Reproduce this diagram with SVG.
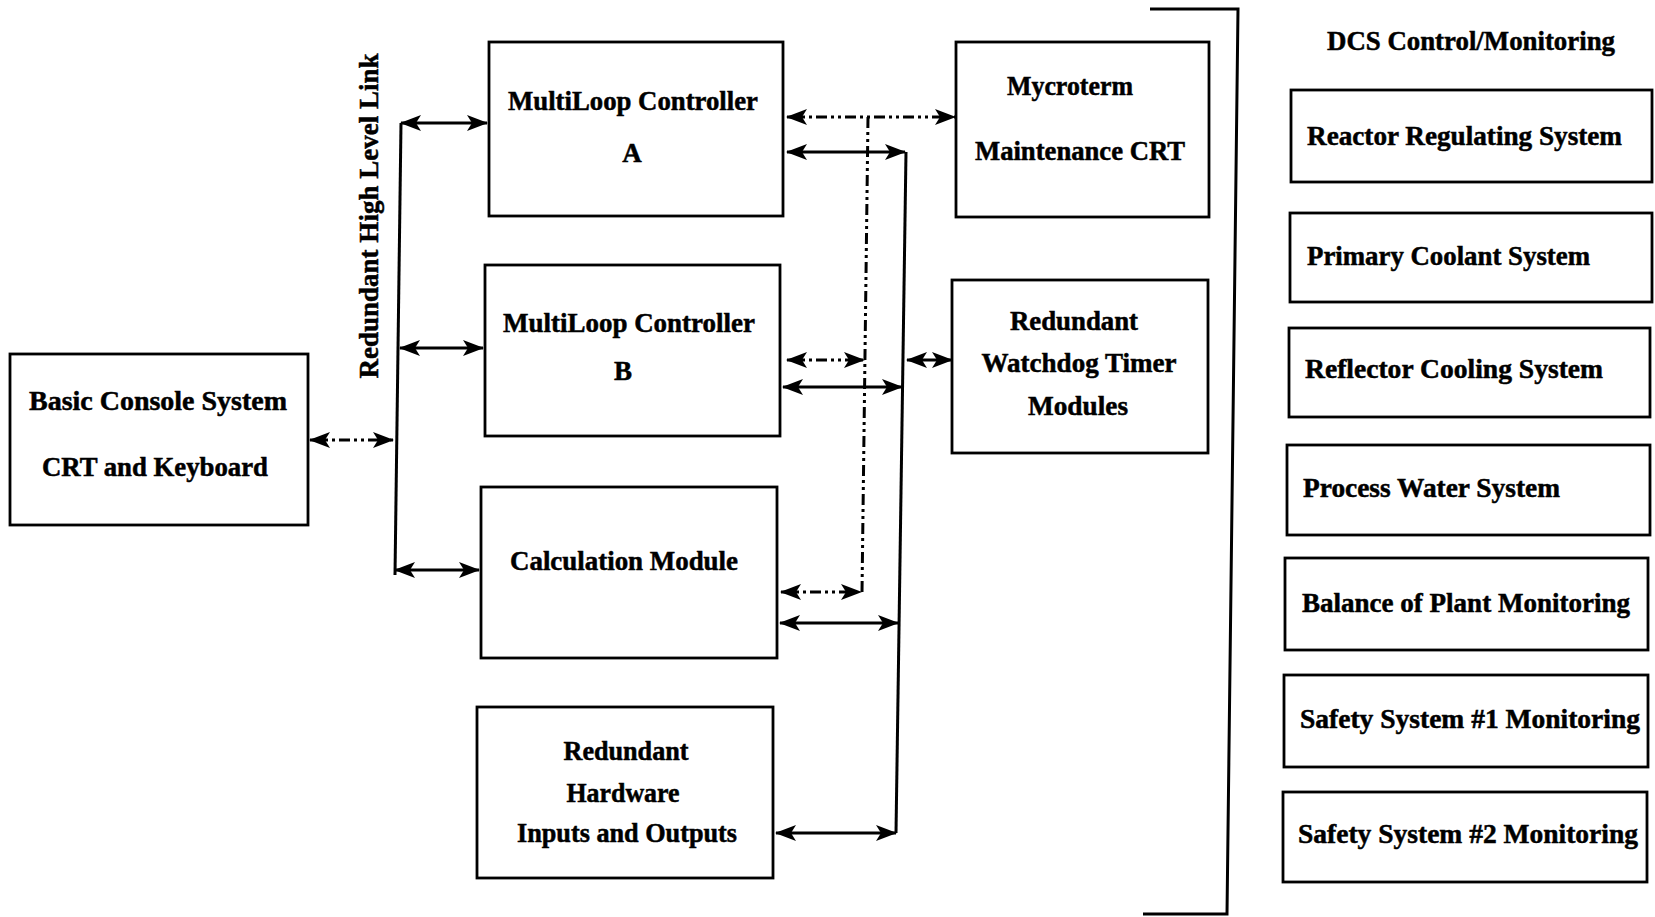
<svg xmlns="http://www.w3.org/2000/svg" width="1655" height="917" viewBox="0 0 1655 917">
<defs>
<marker id="ah" markerUnits="userSpaceOnUse" markerWidth="21" markerHeight="17" refX="20" refY="8" orient="auto-start-reverse" viewBox="0 0 21 16">
<path d="M0,0 L21,8 L0,16 L5,8 z" fill="#000"/>
</marker>
</defs>
<style>
.box{fill:#fff;stroke:#000;stroke-width:2.8}
.t{font-family:"Liberation Serif","Times New Roman",serif;font-weight:bold;font-size:27px;fill:#000;stroke:#000;stroke-width:0.5}
.c{text-anchor:middle}
.ln{fill:none;stroke:#000;stroke-width:3}
.dd{fill:none;stroke:#000;stroke-width:3;stroke-dasharray:11 4 3 4 3 4}
.arr{marker-start:url(#ah);marker-end:url(#ah)}
</style>
<rect width="1655" height="917" fill="#fff"/>

<g id="connectors">
<path class="ln" d="M401,123 L395,575"/>
<path class="ln arr" d="M401,123 H487"/>
<path class="ln arr" d="M400,348 H483"/>
<path class="ln arr" d="M395,570 H479"/>
<path class="dd arr" d="M310,440 H393"/>
<path class="dd" d="M868,117 L862,592"/>
<path class="dd arr" d="M787,117 H955"/>
<path class="dd arr" d="M787,360 H864"/>
<path class="dd arr" d="M781,592 H861"/>
<path class="ln" d="M906,152 L896,833"/>
<path class="ln arr" d="M787,152 H905"/>
<path class="ln arr" d="M783,387 H902"/>
<path class="ln arr" d="M780,623 H898"/>
<path class="ln arr" d="M776,833 H896"/>
<path class="ln arr" d="M907,360 H952"/>
<path class="ln" d="M1150,9 H1238 L1227,914 H1143"/>
</g>

<text class="t c" transform="translate(378,216) rotate(-90)" textLength="325" lengthAdjust="spacingAndGlyphs">Redundant High Level Link</text>

<g id="basic">
<rect class="box" x="10" y="354" width="298" height="171"/>
<text class="t c" x="158" y="410" textLength="258" lengthAdjust="spacingAndGlyphs">Basic Console System</text>
<text class="t c" x="155" y="476" textLength="226" lengthAdjust="spacingAndGlyphs">CRT and Keyboard</text>
</g>
<g id="mlA">
<rect class="box" x="489" y="42" width="294" height="174"/>
<text class="t c" x="633" y="110" textLength="250" lengthAdjust="spacingAndGlyphs">MultiLoop Controller</text>
<text class="t c" x="632" y="162">A</text>
</g>
<g id="mlB">
<rect class="box" x="485" y="265" width="295" height="171"/>
<text class="t c" x="629" y="332" textLength="252" lengthAdjust="spacingAndGlyphs">MultiLoop Controller</text>
<text class="t c" x="623" y="380">B</text>
</g>
<g id="calc">
<rect class="box" x="481" y="487" width="296" height="171"/>
<text class="t c" x="624" y="570" textLength="228" lengthAdjust="spacingAndGlyphs">Calculation Module</text>
</g>
<g id="hw">
<rect class="box" x="477" y="707" width="296" height="171"/>
<text class="t c" x="626" y="760" textLength="125" lengthAdjust="spacingAndGlyphs">Redundant</text>
<text class="t c" x="623" y="802" textLength="113" lengthAdjust="spacingAndGlyphs">Hardware</text>
<text class="t c" x="627" y="842" textLength="220" lengthAdjust="spacingAndGlyphs">Inputs and Outputs</text>
</g>
<g id="mycroterm">
<rect class="box" x="956" y="42" width="253" height="175"/>
<text class="t c" x="1070" y="95" textLength="126" lengthAdjust="spacingAndGlyphs">Mycroterm</text>
<text class="t c" x="1080" y="160" textLength="210" lengthAdjust="spacingAndGlyphs">Maintenance CRT</text>
</g>
<g id="watchdog">
<rect class="box" x="952" y="280" width="256" height="173"/>
<text class="t c" x="1074" y="330" textLength="128" lengthAdjust="spacingAndGlyphs">Redundant</text>
<text class="t c" x="1079" y="372" textLength="195" lengthAdjust="spacingAndGlyphs">Watchdog Timer</text>
<text class="t c" x="1078" y="415" textLength="100" lengthAdjust="spacingAndGlyphs">Modules</text>
</g>

<text class="t c" x="1471" y="50" textLength="288" lengthAdjust="spacingAndGlyphs">DCS Control/Monitoring</text>

<g id="reactor">
<rect class="box" x="1291" y="90" width="361" height="92"/>
<text class="t" x="1307" y="145" textLength="315" lengthAdjust="spacingAndGlyphs">Reactor Regulating System</text>
</g>
<g id="primary">
<rect class="box" x="1290" y="213" width="362" height="89"/>
<text class="t" x="1307" y="265" textLength="283" lengthAdjust="spacingAndGlyphs">Primary Coolant System</text>
</g>
<g id="reflector">
<rect class="box" x="1289" y="328" width="361" height="89"/>
<text class="t" x="1305" y="378" textLength="298" lengthAdjust="spacingAndGlyphs">Reflector Cooling System</text>
</g>
<g id="process">
<rect class="box" x="1287" y="445" width="363" height="90"/>
<text class="t" x="1303" y="497" textLength="257" lengthAdjust="spacingAndGlyphs">Process Water System</text>
</g>
<g id="balance">
<rect class="box" x="1285" y="558" width="363" height="92"/>
<text class="t" x="1302" y="612" textLength="328" lengthAdjust="spacingAndGlyphs">Balance of Plant Monitoring</text>
</g>
<g id="safety1">
<rect class="box" x="1284" y="675" width="364" height="92"/>
<text class="t" x="1300" y="728" textLength="340" lengthAdjust="spacingAndGlyphs">Safety System #1 Monitoring</text>
</g>
<g id="safety2">
<rect class="box" x="1283" y="792" width="364" height="90"/>
<text class="t" x="1298" y="843" textLength="340" lengthAdjust="spacingAndGlyphs">Safety System #2 Monitoring</text>
</g>
</svg>
